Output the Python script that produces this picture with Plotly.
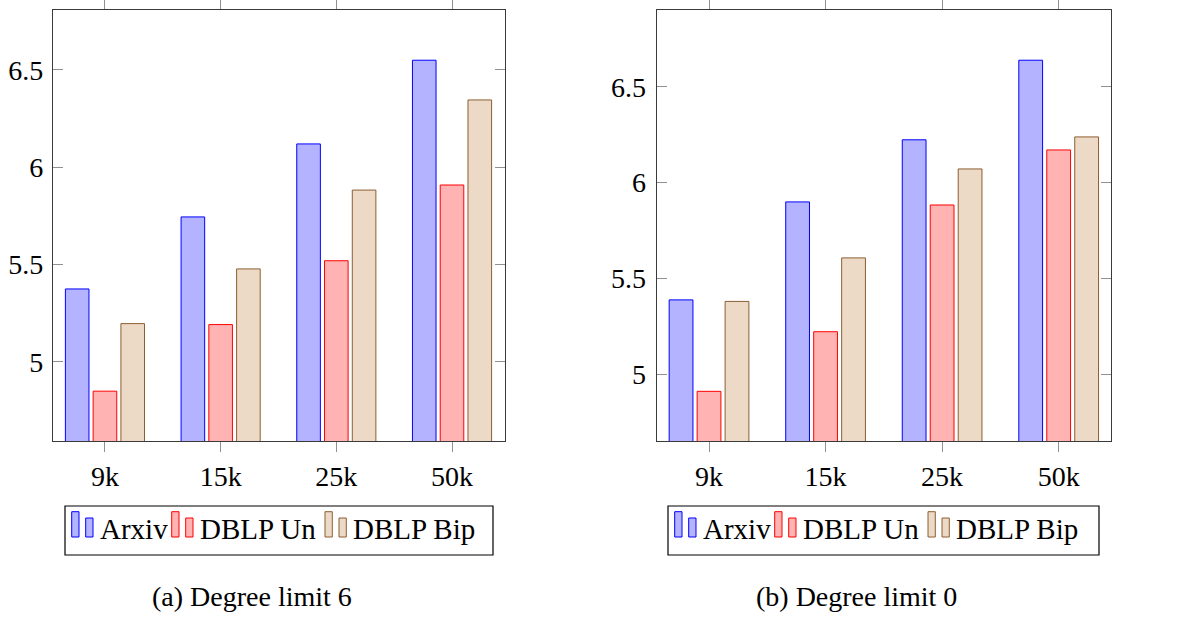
import plotly.graph_objects as go

# Graph sizes on the x axis
sizes = ["9k", "15k", "25k", "50k"]
series_names = ["Arxiv", "DBLP Un", "DBLP Bip"]

# (a) Degree limit 6
limit6_arxiv = [5.375, 5.745, 6.12, 6.55]
limit6_dblp_un = [4.85, 5.192, 5.52, 5.909]
limit6_dblp_bip = [5.197, 5.478, 5.883, 6.346]

# (b) Degree limit 0
limit0_arxiv = [5.388, 5.899, 6.223, 6.638]
limit0_dblp_un = [4.911, 5.222, 5.883, 6.17]
limit0_dblp_bip = [5.38, 5.607, 6.071, 6.238]

captions = ["(a) Degree limit 6", "(b) Degree limit 0"]

W, H = 1186, 619
FONT = "Liberation Serif"

fills = ["rgb(179,179,255)", "rgb(255,179,179)", "rgb(236,217,198)"]
lines = ["rgb(0,0,255)", "rgb(255,0,0)", "rgb(140,95,50)"]


def px(x):
    return x / W


def py(y):
    return 1 - y / H


fig = go.Figure()

panels = [
    ("x", "y", [limit6_arxiv, limit6_dblp_un, limit6_dblp_bip]),
    ("x2", "y2", [limit0_arxiv, limit0_dblp_un, limit0_dblp_bip]),
]
for xa, ya, series in panels:
    for name, vals, fc, lc in zip(series_names, series, fills, lines):
        fig.add_trace(go.Bar(
            x=sizes, y=vals, name=name, xaxis=xa, yaxis=ya,
            marker=dict(color=fc, line=dict(color=lc, width=1)),
            showlegend=False,
        ))

axis_common = dict(
    showline=True, linecolor="#3a3a3a", linewidth=1.3, mirror="ticks",
    showgrid=False, zeroline=False, tickcolor="#909090", ticklen=10, tickwidth=1,
    tickfont=dict(family=FONT, size=28, color="black"),
)

fig.update_layout(
    width=W, height=H,
    margin=dict(l=0, r=0, t=0, b=0),
    paper_bgcolor="white", plot_bgcolor="white",
    barmode="group", bargap=0.28, bargroupgap=0.15,
    xaxis=dict(domain=[px(53), px(505)], anchor="y", type="category",
               categoryorder="array", categoryarray=sizes,
               range=[-0.449, 3.458], ticks="outside", **axis_common),
    yaxis=dict(domain=[py(441), py(10)], anchor="x",
               range=[4.594, 6.808], tickvals=[5, 5.5, 6, 6.5],
               ticktext=["5", "5.5", "6", "6.5"],
               ticks="inside", ticklabelstandoff=3, **axis_common),
    xaxis2=dict(domain=[px(656.7), px(1111)], anchor="y2", type="category",
                categoryorder="array", categoryarray=sizes,
                range=[-0.449, 3.449], ticks="outside", **axis_common),
    yaxis2=dict(domain=[py(441), py(10)], anchor="x2",
                range=[4.652, 6.9], tickvals=[5, 5.5, 6, 6.5],
                ticktext=["5", "5.5", "6", "6.5"],
                ticks="inside", ticklabelstandoff=4, **axis_common),
)

# Hand-built legends: framed box, two-bar icon per series, label text
shapes = []
annotations = []
legend_boxes = [(65, 493), (668, 1099)]
icon_offsets = [(71.7, 98), (171.7, 198), (325, 351)]
for (bx0, bx1) in legend_boxes:
    shapes.append(dict(type="rect", xref="paper", yref="paper",
                       x0=px(bx0), x1=px(bx1), y0=py(555), y1=py(506),
                       line=dict(color="black", width=1.2), fillcolor="white"))
    shift = bx0 - 65
    for (ix, tx), name, fc, lc in zip(icon_offsets, series_names, fills, lines):
        ix += shift
        tx += shift
        shapes.append(dict(type="rect", xref="paper", yref="paper",
                           x0=px(ix), x1=px(ix + 7.3), y0=py(537), y1=py(511.7),
                           line=dict(color=lc, width=1), fillcolor=fc))
        shapes.append(dict(type="rect", xref="paper", yref="paper",
                           x0=px(ix + 14), x1=px(ix + 21.3), y0=py(537), y1=py(518),
                           line=dict(color=lc, width=1), fillcolor=fc))
        annotations.append(dict(xref="paper", yref="paper", x=px(tx), y=py(529),
                                xanchor="left", yanchor="middle", showarrow=False,
                                text=name, font=dict(family=FONT, size=29, color="black")))

for cx, text in zip([251.7, 856.7], captions):
    annotations.append(dict(xref="paper", yref="paper", x=px(cx), y=py(596),
                            xanchor="center", yanchor="middle", showarrow=False,
                            text=text, font=dict(family=FONT, size=28, color="black")))

fig.update_layout(shapes=shapes, annotations=annotations)

fig.write_html("out.html")
